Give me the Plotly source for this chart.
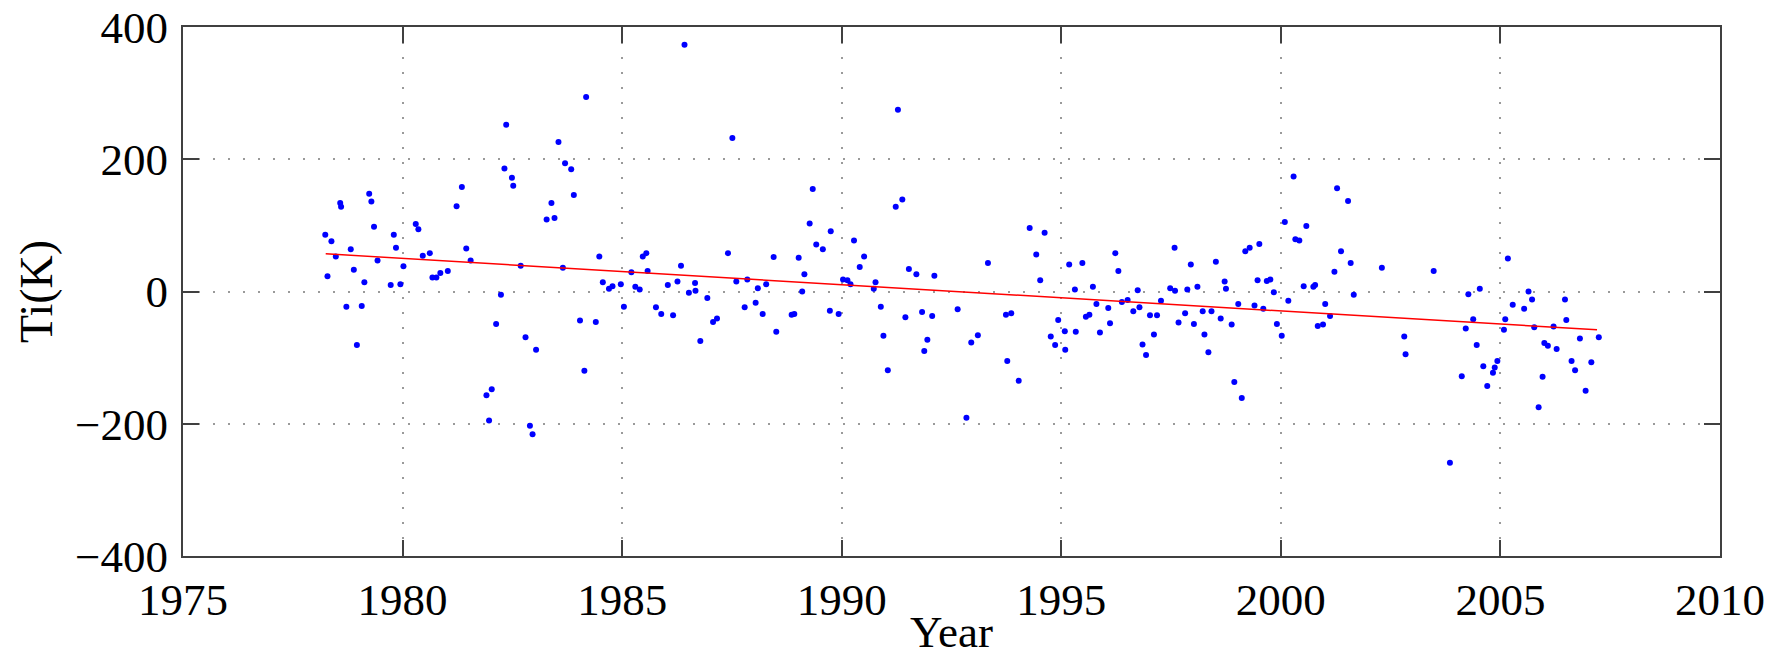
import plotly.graph_objects as go

# ---- data ----
years = [
    1978.24, 1978.29, 1978.38, 1978.48, 1978.58, 1978.60, 1978.72, 1978.82, 1978.89, 1978.96,
    1979.07, 1979.13, 1979.24, 1979.29, 1979.35, 1979.43, 1979.73, 1979.80, 1979.85, 1979.95,
    1980.02, 1980.30, 1980.36, 1980.46, 1980.62, 1980.68, 1980.77, 1980.86, 1981.03, 1981.23,
    1981.35, 1981.45, 1981.55, 1981.91, 1981.97, 1982.03, 1982.13, 1982.24, 1982.32, 1982.36,
    1982.49, 1982.52, 1982.69, 1982.80, 1982.90, 1982.96, 1983.04, 1983.28, 1983.39, 1983.46,
    1983.55, 1983.65, 1983.70, 1983.84, 1983.90,
    1984.04, 1984.14, 1984.18, 1984.40, 1984.48, 1984.56, 1984.70, 1984.78, 1984.97, 1985.04,
    1985.21, 1985.30, 1985.40, 1985.47, 1985.55, 1985.58, 1985.77, 1985.89, 1986.04, 1986.16,
    1986.26, 1986.34, 1986.42, 1986.52, 1986.66, 1986.67, 1986.78, 1986.94, 1987.07, 1987.16,
    1987.41, 1987.51, 1987.60, 1987.79, 1987.85, 1988.04, 1988.09, 1988.20, 1988.28, 1988.45,
    1988.51, 1988.86, 1988.92, 1989.02, 1989.10, 1989.15, 1989.27, 1989.34, 1989.42, 1989.57,
    1989.73, 1989.75, 1989.93,
    1990.03, 1990.13, 1990.20, 1990.28, 1990.41, 1990.51, 1990.73, 1990.77, 1990.89, 1990.95,
    1991.05, 1991.23, 1991.28, 1991.38, 1991.45, 1991.53, 1991.70, 1991.83, 1991.88, 1991.95,
    1992.06, 1992.11, 1992.64, 1992.84, 1992.95, 1993.10, 1993.33, 1993.74, 1993.77, 1993.86,
    1994.03, 1994.28, 1994.43, 1994.52, 1994.62, 1994.76, 1994.86, 1994.93, 1995.08, 1995.09,
    1995.18, 1995.31, 1995.33, 1995.48, 1995.56, 1995.64, 1995.72, 1995.80,
    1995.88, 1996.07, 1996.11, 1996.23, 1996.30, 1996.38, 1996.51, 1996.64, 1996.74, 1996.78,
    1996.85, 1996.93, 1997.02, 1997.11, 1997.18, 1997.27, 1997.48, 1997.58, 1997.59, 1997.67,
    1997.82, 1997.87, 1997.95, 1998.02, 1998.10, 1998.22, 1998.26, 1998.35, 1998.42, 1998.52,
    1998.63, 1998.72, 1998.75, 1998.88, 1998.94, 1999.03, 1999.11, 1999.19, 1999.29, 1999.40,
    1999.47, 1999.51, 1999.60, 1999.68, 1999.76, 1999.84, 1999.91, 2000.02, 2000.09, 2000.17,
    2000.29, 2000.33, 2000.42, 2000.52, 2000.58, 2000.74, 2000.78, 2000.84, 2000.96, 2001.01,
    2001.12, 2001.22, 2001.28, 2001.37, 2001.53, 2001.59, 2001.66,
    2002.30, 2002.81, 2002.84, 2003.48, 2003.85, 2004.12, 2004.21, 2004.27, 2004.38, 2004.46,
    2004.53, 2004.61, 2004.70, 2004.83, 2004.87, 2004.93, 2005.08, 2005.11, 2005.17, 2005.28,
    2005.54, 2005.64, 2005.72, 2005.77, 2005.87, 2005.96, 2006.00, 2006.08, 2006.21, 2006.28,
    2006.47, 2006.50, 2006.62, 2006.70, 2006.81, 2006.94, 2007.07, 2007.24,
]
ti_values = [
    86, 23, 76, 53, 134, 128, -23, 64, 33, -81,
    -22, 14, 148, 136, 98, 47, 10, 86, 66, 11,
    38, 102, 94, 54, 58, 21, 21, 28, 31, 129,
    158, 65, 47, -157, -195, -148, -49, -5, 186, 252,
    172, 160, 39, -69, -203, -216, -88, 109, 134, 111,
    226, 36, 194, 185, 146,
    -44, -120, 294, -46, 53, 14, 4, 8, 11, -23,
    29, 7, 3, 53, 58, 31, -24, -34, 10, -36,
    15, 39, 373, -2, 13, 1, -75, -10, -46, -41,
    58, 232, 15, -24, 18, -17, 5, -34, 11, 52,
    -61, -35, -34, 51, 0, 26, 103, 155, 71, 64,
    -29, 91, -34,
    18, 17, 11, 77, 37, 53, 4, 14, -23, -67,
    -119, 128, 275, 139, -39, 34, 26, -31, -90, -73,
    -37, 24, -27, -191, -77, -66, 43, -35, -105, -33,
    -135, 96, 56, 17, 89, -68, -81, -43, -60, -88,
    41, 3, -61, 43, -38, -35, 7, -19,
    -62, -25, -48, 58, 31, -16, -13, -30, 2, -24,
    -80, -96, -36, -65, -36, -14, 5, 66, 1, -47,
    -33, 3, 41, -49, 7, -30, -65, -92, -30, 45,
    -41, 15, 4, -50, -137, -19, -161, 61, 66, -21,
    17, 72, -26, 16, 18, -1, -49, -67, 105, -14,
    174, 79, 77, 8, 99, 7, 10, -52, -50, -19,
    -37, 30, 156, 61, 137, 43, -5,
    36, -68, -95, 31, -259, -128, -56, -4, -42, -81,
    4, -113, -143, -123, -115, -105, -58, -42, 50, -20,
    -26, 0, -12, -54, -175, -129, -78, -82, -53, -87,
    -12, -43, -105, -119, -71, -150, -107, -69,
]
trend_years = [1978.25, 2007.2]
trend_values = [57, -58]

x_ticks = [1975, 1980, 1985, 1990, 1995, 2000, 2005, 2010]
y_ticks = [-400, -200, 0, 200, 400]

FONT = "Liberation Serif, Times New Roman, serif"

fig = go.Figure()
fig.add_trace(go.Scatter(
    x=years, y=ti_values, mode="markers",
    marker=dict(color="#0000ff", size=6, line=dict(width=0)),
    showlegend=False,
))
fig.add_trace(go.Scatter(
    x=trend_years, y=trend_values, mode="lines",
    line=dict(color="#ff0000", width=1.5),
    showlegend=False,
))

axis_common = dict(
    showline=True, linecolor="#404040", linewidth=2, mirror="ticks",
    ticks="inside", ticklen=16, tickwidth=2, tickcolor="#404040",
    showgrid=True, gridcolor="#9a9a9a", gridwidth=1.5, griddash="2px,13px",
    zeroline=False,
    tickfont=dict(family=FONT, size=45, color="black"),
)

fig.update_xaxes(
    range=[1975, 2010], tickvals=x_ticks, ticktext=[str(v) for v in x_ticks],
    ticklabelstandoff=3,
    **axis_common,
)
fig.update_yaxes(
    range=[-400, 400], tickvals=y_ticks, ticktext=["\u2212400", "\u2212200", "0", "200", "400"],
    title=dict(text="Ti(K)", font=dict(family=FONT, size=46, color="black"), standoff=8),
    ticklabelstandoff=4,
    **axis_common,
)

fig.add_annotation(
    text="Year", xref="paper", yref="paper", x=0.5, y=0,
    xanchor="center", yanchor="bottom", yshift=-103, showarrow=False,
    font=dict(family=FONT, size=45, color="black"),
)

fig.update_layout(
    width=1785, height=660,
    margin=dict(l=183, r=65, t=27, b=104, autoexpand=False),
    paper_bgcolor="white", plot_bgcolor="white",
    font=dict(family=FONT, color="black"),
)

fig.write_html("out.html")
